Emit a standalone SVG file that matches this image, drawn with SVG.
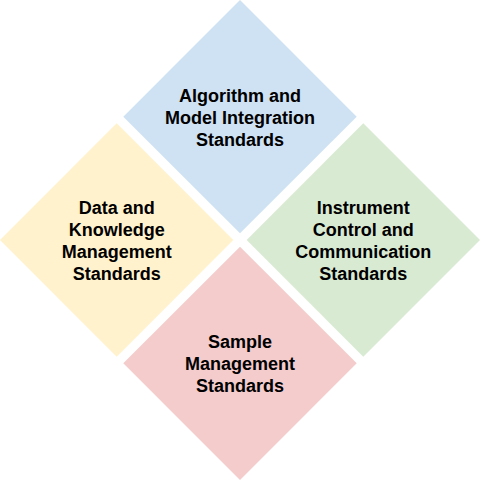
<svg xmlns="http://www.w3.org/2000/svg" width="480" height="480" viewBox="0 0 480 480">
<style>
  .lbl { font-family: "Liberation Sans", Arial, sans-serif; font-weight: bold; font-size: 18px; fill: #000; text-anchor: middle; }
</style>
<rect width="480" height="480" fill="#ffffff"/>
<g id="node-algorithm">
  <polygon points="240,0 356.7,116.7 240,233.3 123.3,116.7" fill="#cfe2f3"/>
  <text class="lbl" x="240" y="102">Algorithm and</text>
  <text class="lbl" x="240" y="124">Model Integration</text>
  <text class="lbl" x="240" y="146">Standards</text>
</g>
<g id="node-data">
  <polygon points="116.7,123.3 233.3,240 116.7,356.7 0,240" fill="#fff2cc"/>
  <text class="lbl" x="116.7" y="213.5">Data and</text>
  <text class="lbl" x="116.7" y="235.5">Knowledge</text>
  <text class="lbl" x="116.7" y="257.5">Management</text>
  <text class="lbl" x="116.7" y="279.5">Standards</text>
</g>
<g id="node-instrument">
  <polygon points="363.3,123.3 480,240 363.3,356.7 246.7,240" fill="#d9ead3"/>
  <text class="lbl" x="363.3" y="213.5">Instrument</text>
  <text class="lbl" x="363.3" y="235.5">Control and</text>
  <text class="lbl" x="363.3" y="257.5">Communication</text>
  <text class="lbl" x="363.3" y="279.5">Standards</text>
</g>
<g id="node-sample">
  <polygon points="240,246.7 356.7,363.3 240,480 123.3,363.3" fill="#f4cccc"/>
  <text class="lbl" x="240" y="347.5">Sample</text>
  <text class="lbl" x="240" y="369.5">Management</text>
  <text class="lbl" x="240" y="391.5">Standards</text>
</g>
<g id="connectors"></g>
</svg>
